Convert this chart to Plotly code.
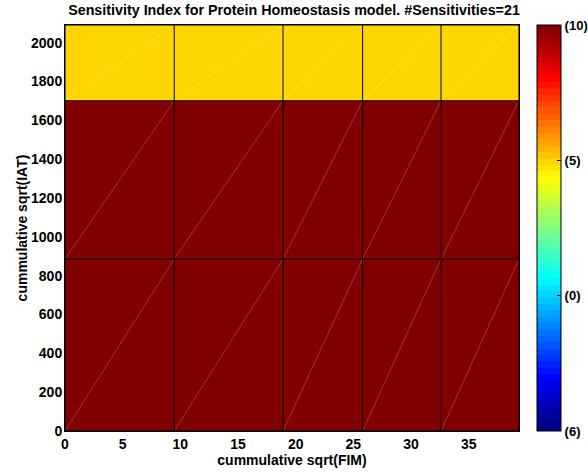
import plotly.graph_objects as go

# ---- data ----
x_edges = [0, 9.47, 18.9, 25.8, 32.6, 39.36]
y_edges = [0, 886, 1701, 2091]
z_values = [
    [1.0, 1.0, 1.0, 1.0, 1.0],
    [1.0, 1.0, 1.0, 1.0, 1.0],
    [0.667, 0.667, 0.667, 0.667, 0.667],
]
x_ticks = [0, 5, 10, 15, 20, 25, 30, 35]
y_ticks = [0, 200, 400, 600, 800, 1000, 1200, 1400, 1600, 1800, 2000]
cbar_tickvals = [0, 1/3, 2/3, 1]
cbar_ticktext = ["(6)", "(0)", "(5)", "(10)"]
title_text = "Sensitivity Index for Protein Homeostasis model. #Sensitivities=21"

# ---- MATLAB-like jet (64 steps) ----
def jet(v):
    def c(a):
        return max(0.0, min(1.0, a))
    r = c(1.5 - abs(4 * v - 3))
    g = c(1.5 - abs(4 * v - 2))
    b = c(1.5 - abs(4 * v - 1))
    return "rgb(%d,%d,%d)" % (round(r * 255), round(g * 255), round(b * 255))

N = 64
colorscale = []
for i in range(N):
    col = jet(i / (N - 1))
    colorscale.append([i / N, col])
    colorscale.append([(i + 1) / N, col])

FONT = "Liberation Sans, Arial, Helvetica, sans-serif"

fig = go.Figure()
fig.add_trace(go.Heatmap(
    x=x_edges, y=y_edges, z=z_values,
    colorscale=colorscale, zmin=0, zmax=1,
    hoverinfo="skip",
    colorbar=dict(
        x=1.0396, xanchor="left", xpad=0, ypad=0,
        y=0, yanchor="bottom", len=1.0, lenmode="fraction",
        thickness=24, thicknessmode="pixels",
        outlinecolor="black", outlinewidth=1,
        tickvals=cbar_tickvals, ticktext=cbar_ticktext,
        ticks="inside", ticklen=4, tickcolor="black",
        tickfont=dict(family=FONT, size=13, color="black", weight="bold"),
    ),
))

# faint diagonals (rendering artifacts of the patches)
dx, dy = [], []
for j in range(len(y_edges) - 1):
    for i in range(len(x_edges) - 1):
        dx += [x_edges[i], x_edges[i + 1], None]
        dy += [y_edges[j], y_edges[j + 1], None]
fig.add_trace(go.Scatter(x=dx, y=dy, mode="lines",
                         line=dict(color="rgba(255,255,255,0.35)", width=0.6),
                         hoverinfo="skip", showlegend=False))

# black cell borders
gx, gy = [], []
for xe in x_edges:
    gx += [xe, xe, None]
    gy += [y_edges[0], y_edges[-1], None]
for ye in y_edges:
    gx += [x_edges[0], x_edges[-1], None]
    gy += [ye, ye, None]
fig.add_trace(go.Scatter(x=gx, y=gy, mode="lines",
                         line=dict(color="black", width=1),
                         hoverinfo="skip", showlegend=False))

fig.update_layout(
    width=588, height=472,
    margin=dict(l=65, r=69, t=25, b=41, autoexpand=False),
    paper_bgcolor="white", plot_bgcolor="white",
    showlegend=False,
    title=dict(text=title_text, x=0.5, xanchor="center", y=0.979, yanchor="middle",
               font=dict(family=FONT, size=14.3, color="black", weight="bold")),
    font=dict(family=FONT, color="black"),
)
fig.update_xaxes(
    range=[x_edges[0], x_edges[-1]], tickvals=x_ticks, ticks="",
    showgrid=False, zeroline=False, showline=True, linecolor="black", linewidth=1, mirror=True,
    tickfont=dict(family=FONT, size=14, color="black", weight="bold"),
    title=dict(text="cummulative sqrt(FIM)", standoff=0,
               font=dict(family=FONT, size=14, color="black", weight="bold")),
    automargin=False,
)
fig.update_yaxes(
    range=[y_edges[0], y_edges[-1]], tickvals=y_ticks, ticks="",
    ticklabelstandoff=-1, ticksuffix="\u00a0",
    showgrid=False, zeroline=False, showline=True, linecolor="black", linewidth=1, mirror=True,
    tickfont=dict(family=FONT, size=14, color="black", weight="bold"),
    title=dict(text="cummulative sqrt(IAT)", standoff=0,
               font=dict(family=FONT, size=14, color="black", weight="bold")),
    automargin=False,
)

fig.write_html("out.html", post_script="document.body.style.margin='0px';",
               config={"displayModeBar": False})
